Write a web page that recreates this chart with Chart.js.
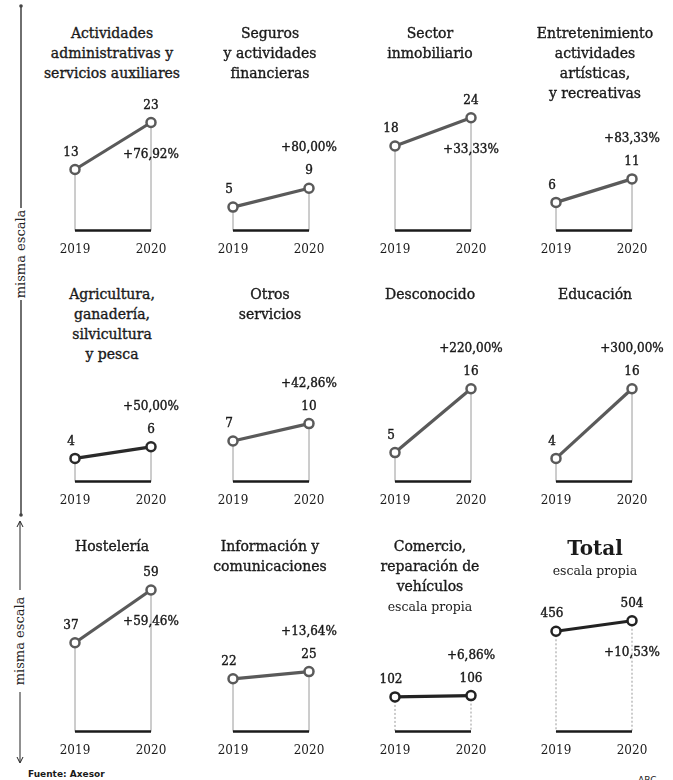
<!DOCTYPE html>
<html lang="es">
<head>
<meta charset="UTF-8">
<title>Empresas por sector 2019-2020</title>
<script src="https://cdn.jsdelivr.net/npm/chart.js"></script>
<style>
    body { margin: 0; background: #fff; }
    #page { position: relative; width: 673px; height: 780px; overflow: hidden; font-family: "DejaVu Serif", serif; color: #1a1a1a; }
    .title { position: absolute; width: 180px; margin-left: -90px; text-align: center; font-size: 14px; line-height: 20px; -webkit-text-stroke: 0.35px #1a1a1a; }
    .title .sub { font-size: 12.5px; -webkit-text-stroke: 0; }
    .title .big { font-size: 20px; font-weight: bold; line-height: 24px; -webkit-text-stroke: 0; }
    canvas { position: absolute; }
    #scale { position: absolute; left: 0; top: 0; }
    .foot { position: absolute; font-family: "DejaVu Sans", sans-serif; font-size: 9px; font-weight: bold; }
</style>
</head>
<body>
<div id="page">
    <svg id="scale" width="40" height="780">
        <!-- first bracket: rows 1 and 2 -->
        <line x1="21" y1="5" x2="21" y2="208" stroke="#222" stroke-width="1.3"/>
        <circle cx="21" cy="6" r="1.8" fill="#444"/>
        <text transform="translate(25,254) rotate(-90)" text-anchor="middle" font-family="DejaVu Serif" font-size="13" fill="#222">misma escala</text>
        <line x1="21" y1="300" x2="21" y2="515" stroke="#222" stroke-width="1.3"/>
        <circle cx="21" cy="515" r="1.8" fill="#444"/>
        <!-- second bracket: row 3 -->
        <line x1="20" y1="522" x2="20" y2="590" stroke="#222" stroke-width="1"/>
        <path d="M17,527 L20,521 L23,527" fill="none" stroke="#222" stroke-width="1"/>
        <text transform="translate(24,641) rotate(-90)" text-anchor="middle" font-family="DejaVu Serif" font-size="13" fill="#222">misma escala</text>
        <line x1="20" y1="692" x2="20" y2="762" stroke="#222" stroke-width="1"/>
        <path d="M17,757 L20,763 L23,757" fill="none" stroke="#222" stroke-width="1"/>
    </svg>
    <div class="foot" style="left:28px; top:769px;">Fuente: Axesor</div>
    <div class="foot" style="left:638px; top:775px; font-weight:normal;">ABC</div>
</div>

<script>
    // Sectores (un mini gráfico por sector)
    const sectors = [
        'Actividades\nadministrativas y\nservicios auxiliares',
        'Seguros\ny actividades\nfinancieras',
        'Sector\ninmobiliario',
        'Entretenimiento\nactividades\nartísticas,\ny recreativas',
        'Agricultura,\nganadería,\nsilvicultura\ny pesca',
        'Otros\nservicios',
        'Desconocido',
        'Educación',
        'Hostelería',
        'Información y\ncomunicaciones',
        'Comercio,\nreparación de\nvehículos',
        'Total'
    ];
    const years = ['2019', '2020'];
    const values2019 = [13, 5, 18, 6, 4, 7, 5, 4, 37, 22, 102, 456];
    const values2020 = [23, 9, 24, 11, 6, 10, 16, 16, 59, 25, 106, 504];
    const changeLabels = ['+76,92%', '+80,00%', '+33,33%', '+83,33%', '+50,00%', '+42,86%',
                          '+220,00%', '+300,00%', '+59,46%', '+13,64%', '+6,86%', '+10,53%'];
    const ownScale = [false, false, false, false, false, false, false, false, false, false, true, true];

    // layout / style
    const colX = [75, 233, 395, 556];          // x of 2019 point per column
    const titleX = [112, 270, 430, 595];
    const titleY = [23, 284, 536];
    const baseY = [231, 482, 732];
    const pxPerUnit = [4.7, 4.7, 4.7, 4.7, 5.8, 5.8, 5.8, 5.8, 2.4, 2.4, 0.34, 0.22];
    const pctBelow = [true, false, true, false, false, false, false, false, true, false, false, true];
    const lineColors = ['#5a5a5a', '#5a5a5a', '#5a5a5a', '#5a5a5a', '#2a2a2a', '#5a5a5a',
                        '#5a5a5a', '#5a5a5a', '#5a5a5a', '#5a5a5a', '#222', '#222'];
    const numFont = '12px "DejaVu Serif"';

    const page = document.getElementById('page');

    // drop lines + base line under the data, number labels on top
    const slopePlugin = {
        id: 'slope',
        beforeDatasetsDraw(chart) {
            const ctx = chart.ctx;
            const pts = chart.getDatasetMeta(0).data;
            const bottom = chart.chartArea.bottom;
            ctx.save();
            ctx.strokeStyle = '#9a9a9a';
            ctx.lineWidth = 1;
            if (chart.options.plugins.slope.dotted) ctx.setLineDash([2, 2]);
            pts.forEach(p => {
                ctx.beginPath();
                ctx.moveTo(p.x, p.y);
                ctx.lineTo(p.x, bottom);
                ctx.stroke();
            });
            ctx.setLineDash([]);
            ctx.strokeStyle = '#1a1a1a';
            ctx.lineWidth = 2.5;
            ctx.beginPath();
            ctx.moveTo(pts[0].x, bottom);
            ctx.lineTo(pts[1].x, bottom);
            ctx.stroke();
            ctx.restore();
        },
        afterDatasetsDraw(chart) {
            const ctx = chart.ctx;
            const opts = chart.options.plugins.slope;
            const pts = chart.getDatasetMeta(0).data;
            const vals = chart.data.datasets[0].data;
            ctx.save();
            ctx.font = numFont;
            ctx.fillStyle = '#1a1a1a';
            ctx.strokeStyle = '#1a1a1a';
            ctx.lineWidth = 0.4;
            ctx.textAlign = 'center';
            ctx.textBaseline = 'middle';
            const label = (s, x, y) => { ctx.fillText(s, x, y); ctx.strokeText(s, x, y); };
            pts.forEach((p, i) => label(vals[i], p.x - (i === 0 ? 4 : 0), p.y - 17));
            const p2 = pts[1];
            label(opts.pct, p2.x, opts.below ? p2.y + 32 : p2.y - 40);
            ctx.restore();
        }
    };

    sectors.forEach((name, i) => {
        const row = Math.floor(i / 4), col = i % 4;

        // title
        const t = document.createElement('div');
        t.className = 'title';
        t.style.left = titleX[col] + 'px';
        t.style.top = titleY[row] + 'px';
        let html = name.split('\n').join('<br>');
        if (name === 'Total') html = '<span class="big">Total</span>';
        if (ownScale[i]) html += '<br><span class="sub">escala propia</span>';
        t.innerHTML = html;
        page.appendChild(t);

        const canvas = document.createElement('canvas');
        canvas.width = 156;
        canvas.height = 260;
        page.appendChild(canvas);

        const chart = new Chart(canvas, {
            type: 'line',
            data: {
                labels: years,
                datasets: [{
                    data: [values2019[i], values2020[i]],
                    clip: false,
                    borderColor: lineColors[i],
                    borderWidth: 3.2,
                    pointRadius: 4.5,
                    pointBorderWidth: 2.5,
                    pointBorderColor: lineColors[i],
                    pointBackgroundColor: '#fff'
                }]
            },
            options: {
                responsive: false,
                animation: false,
                layout: { padding: { top: 40, left: 40, right: 40, bottom: 0 } },
                plugins: {
                    legend: { display: false },
                    tooltip: { enabled: false },
                    slope: { pct: changeLabels[i], below: pctBelow[i], dotted: ownScale[i] }
                },
                scales: {
                    x: {
                        offset: false,
                        grid: { display: false, drawTicks: false },
                        border: { display: false },
                        ticks: { color: '#1a1a1a', font: { family: 'DejaVu Serif', size: 12 }, padding: 12, maxRotation: 0, autoSkip: false }
                    },
                    y: { display: false, min: 0, max: 30 }
                }
            },
            plugins: [slopePlugin]
        });

        // line the chart area up with the panel and set its scale
        const area = chart.chartArea;
        canvas.style.left = (colX[col] - area.left) + 'px';
        canvas.style.top = (baseY[row] - area.bottom) + 'px';
        chart.options.scales.y.max = (area.bottom - area.top) / pxPerUnit[i];
        chart.update();
    });
</script>
</body>
</html>
